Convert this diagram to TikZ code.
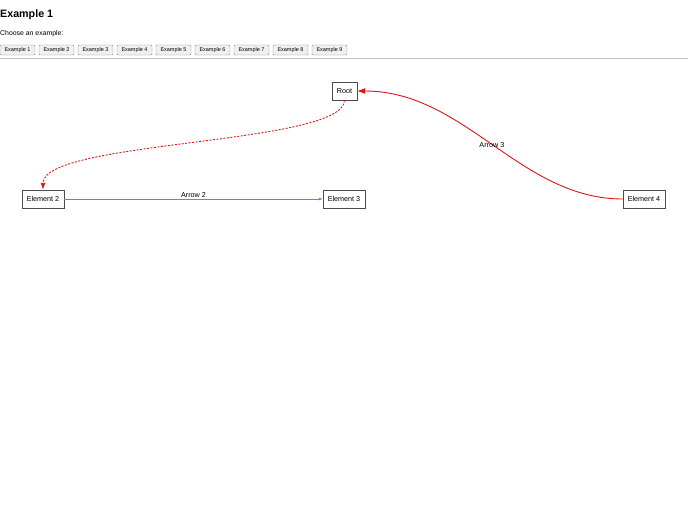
\documentclass[tikz,border=0pt]{standalone}
\usepackage{fontspec}
\setmainfont{Liberation Sans}
\usetikzlibrary{arrows.meta}
\definecolor{arrred}{RGB}{225,20,20}
\begin{document}
\begin{tikzpicture}[x=1pt,y=-1pt,
  elem/.style={draw=black!70,fill=white,minimum width=42pt,minimum height=18pt,inner sep=0pt,font=\fontsize{7.2}{8}\selectfont},
  btn/.style={draw=black!45,fill=black!6,rounded corners=1pt,minimum width=35pt,minimum height=10pt,inner sep=0pt,font=\fontsize{5.5}{6}\selectfont},
  lbl/.style={font=\fontsize{7.2}{8}\selectfont,inner sep=1pt,text=black}]
\useasboundingbox (0,0) rectangle (688,512);
\node[anchor=west,inner sep=0pt,font=\fontsize{10.7}{12}\selectfont\bfseries] (title) at (0,15) {Example 1};
\node[anchor=west,inner sep=0pt,font=\fontsize{6.9}{8}\selectfont] (choose) at (0,34) {Choose an example:};
\foreach \i in {1,...,9} {
  \node[btn] (b\i) at ({17.5+39*(\i-1)},50) {Example \i};
}
\coordinate (hl) at (0,58.7);
\coordinate (hr) at (688,58.7);
\draw[black!25,line width=0.8pt] (hl) -- (hr);

\node[elem,minimum width=25pt] (root) at (344.5,91) {Root};
\node[elem] (e2) at (43,199) {Element 2};
\node[elem] (e3) at (344,199) {Element 3};
\node[elem] (e4) at (644,199) {Element 4};

\draw[arrred,dash pattern=on 2pt off 1.5pt,line width=0.9pt,-{Latex[length=7pt,width=5pt]}]
  (root.south) .. controls (344,145) and (43,140) .. (e2.north);
\draw[blue!55,line width=0.7pt,-{Latex[length=4pt,width=3pt]}]
  (e2.east) -- node[lbl,above] {Arrow 2} (e3.west);
\draw[arrred,line width=0.9pt,-{Latex[length=8pt,width=6pt]}]
  (e4.west) .. controls (520,199) and (465,91) .. node[lbl,pos=0.5] {Arrow 3} (root.east);
\end{tikzpicture}
\end{document}
